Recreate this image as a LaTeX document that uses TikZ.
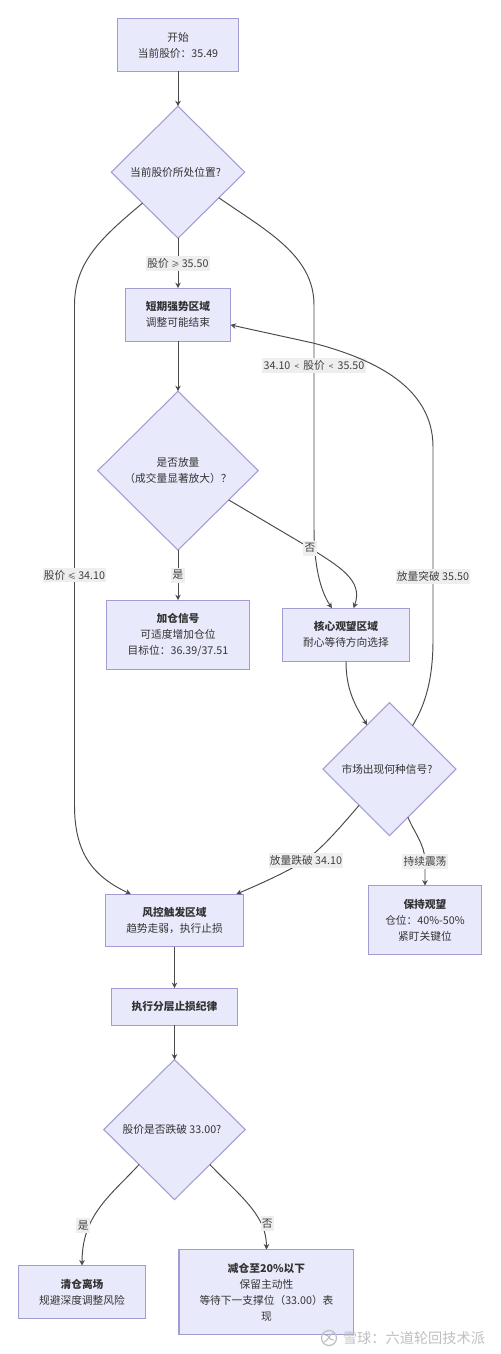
\documentclass[tikz,border=0pt]{standalone}
\usepackage{fontspec}
\setmainfont{Noto Sans CJK SC}
\usetikzlibrary{arrows.meta, positioning, shapes.geometric}
\definecolor{nodefill}{HTML}{E9E9FC}
\definecolor{nodeline}{HTML}{A39CD2}
\definecolor{edgeline}{HTML}{4A4A4A}
\definecolor{labelfill}{HTML}{EEEEEE}
\newcommand{\tinysym}[1]{{\fontsize{4.6}{9.1}\selectfont #1}}
\newcommand{\qmark}{?\kern0.1cm}

\begin{document}
\begin{tikzpicture}[
    x=0.02cm, y=-0.02cm,
    >={Stealth[length=1.1mm,width=1.1mm]},
    font=\fontsize{6.1}{9.1}\selectfont,
    box/.style={draw=nodeline, fill=nodefill, line width=0.6pt, inner sep=0pt, outer sep=0pt, align=center, text=black!80},
    choice/.style={box, diamond, aspect=1},
    edge/.style={draw=edgeline, line width=0.55pt, ->},
    tag/.style={fill=labelfill, inner sep=0.8pt, minimum height=0.3cm, text=black!75, align=center},
    watermark/.style={font=\fontsize{8.1}{9}\selectfont, text=black!25, inner sep=0pt}
]
    \useasboundingbox (0,0) rectangle (500,1354);

    \node[box, minimum width=2.43cm, minimum height=1.05cm] (start) at (178,45) {开始\\当前股价：35.49};
    \node[choice, below=0.7cm of start, minimum width=2.67cm, minimum height=2.64cm] (where) {当前股价所处位置\qmark};
    \node[box, below=1cm of where, minimum width=2.1cm, minimum height=1.06cm] (strong) {\textbf{短期强势区域}\\调整可能结束};
    \node[choice, below=1cm of strong, minimum width=3.21cm, minimum height=3.18cm] (volume) {是否放量\\（成交量显著放大）？};
    \node[box, below=1cm of volume, minimum width=2.86cm, minimum height=1.38cm] (add) {\textbf{加仓信号}\\可适度增加仓位\\目标位：36.39/37.51};
    \node[box, right=0.66cm of add, minimum width=2.54cm, minimum height=1.06cm] (core) {\textbf{核心观望区域}\\耐心等待方向选择};
    \node[choice, below=0.83cm of core, xshift=0.87cm, minimum width=2.66cm, minimum height=2.66cm] (signal) {市场出现何种信号\qmark};
    \node[box, below=1cm of signal, xshift=0.71cm, minimum width=2.25cm, minimum height=1.38cm] (hold) {\textbf{保持观望}\\仓位：40\%-50\%\\紧盯关键位};
    \node[box, below=4.5cm of add, xshift=-0.07cm, minimum width=2.75cm, minimum height=1.05cm] (risk) {\textbf{风控触发区域}\\趋势走弱，执行止损};
    \node[box, below=0.83cm of risk, minimum width=2.53cm, minimum height=0.74cm] (stop) {\textbf{执行分层止损纪律}};
    \node[choice, below=0.69cm of stop, minimum width=2.83cm, minimum height=2.8cm] (break) {股价是否跌破 33.00\qmark};
    \node[box, below=1.32cm of break, xshift=-1.85cm, minimum width=2.54cm, minimum height=1.06cm] (clear) {\textbf{清仓离场}\\规避深度调整风险};
    \node[box, below=1cm of break, xshift=1.84cm, minimum width=3.5cm, minimum height=1.7cm] (reduce) {\textbf{减仓至20\%以下}\\保留主动性\\等待下一支撑位（33.00）表\\现};

    \draw[edge] (start) -- (where);
    \draw[edge] (where) -- node[tag] {股价 \tinysym{≥} 35.50} (strong);
    \draw[edge] (strong) -- (volume);
    \draw[edge] (volume) -- node[tag] {是} (add);
    \draw[edge] (where.221) .. controls (105,235) and (74.5,260) .. (74.5,305)
        -- node[tag, pos=0.54] {股价 \tinysym{≤} 34.10} (74.5,805)
        .. controls (74.5,850) and (90,875) .. (risk.149);
    \draw[edge] (where.-32) .. controls (265,230) and (314,255) .. (314,305)
        -- node[tag, pos=0.27] {34.10\, \tinysym{<}\, 股价\, \tinysym{<}\, 35.50} (314,528)
        .. controls (314,565) and (320,590) .. (core.118);
    \draw[edge] (volume.-30) -- (310,548) node[tag, pos=1] {否}
        .. controls (338,566) and (364,580) .. (core.74);
    \draw[edge] (core) .. controls (346,690) and (355,705) .. (signal.117);
    \draw[edge] (signal.62) .. controls (425,705) and (433,680) .. (433,640)
        -- node[tag, pos=0.33] {放量突破 35.50} (433,447)
        .. controls (433,385) and (370,358) .. (313,343) -- (strong.-11);
    \draw[edge] (signal.230) .. controls (338,830) and (322,848) .. (306,860) node[tag, pos=1] {放量跌破 34.10}
        .. controls (285,873) and (260,884) .. (risk.23);
    \draw[edge] (signal.-69) .. controls (414,832) and (425,845) .. (425,861) node[tag, pos=1] {持续震荡} -- (hold);
    \draw[edge] (risk) -- (stop);
    \draw[edge] (stop) -- (break);
    \draw[edge] (break.south west) .. controls (110,1196) and (82,1215) .. (clear.north) node[tag, pos=0.68, xshift=-0.13cm] {是};
    \draw[edge] (break.south east) .. controls (240,1196) and (266.5,1215) .. (reduce.north) node[tag, pos=0.72, xshift=0.13cm] {否};

    \node[watermark] (mark) at (414,1338) {雪球：六道轮回技术派};
    \draw[black!25, line width=0.7pt] (329,1338) circle[radius=0.15cm];
    \draw[black!25, line width=0.6pt] (324,1342) .. controls (328,1341) and (329,1335) .. (333,1333);
    \draw[black!25, line width=0.6pt] (325,1335) .. controls (329,1334) and (329,1341) .. (334,1340);
\end{tikzpicture}
\end{document}
